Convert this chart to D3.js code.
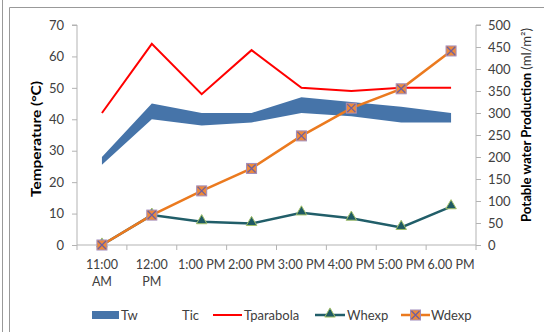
<!DOCTYPE html>
<html><head><meta charset="utf-8">
<script src="https://cdn.jsdelivr.net/npm/d3@7"></script>
<style>
body{margin:0;background:#fff}
svg{display:block;font-family:Lato,"Open Sans",sans-serif}
</style>
</head><body>
<svg id="chart" width="544" height="332"></svg>
<script>
// Hourly readings
const times = ["11:00 AM","12:00 PM","1:00 PM","2:00 PM","3:00 PM","4:00 PM","5:00 PM","6.00 PM"];
const tic = [25.5, 40, 38, 39, 42, 41, 39, 39];          // lower edge of the water-temperature band
const tw = [28, 45, 42, 42, 47, 45.5, 44, 42];           // upper edge of the water-temperature band
const tparabola = [42, 64, 48, 62, 50, 49, 50, 50];      // °C
const whexp = [0, 68, 53, 49, 73, 61, 40, 87];           // ml/m²
const wdexp = [0, 68, 123, 174, 248, 311, 355, 441];     // ml/m²
const tempTicks = [0, 10, 20, 30, 40, 50, 60, 70];
const prodTicks = [0, 50, 100, 150, 200, 250, 300, 350, 400, 450, 500];

const svg = d3.select("#chart");
const m = {left: 77, right: 476, top: 25, bottom: 245};

const x = d3.scaleBand().domain(times).range([m.left, m.right]);
const cx = d => x(d) + x.bandwidth() / 2;
const yT = d3.scaleLinear().domain([0, 70]).range([m.bottom, m.top]);
const yP = d3.scaleLinear().domain([0, 500]).range([m.bottom, m.top]);

const axisCol = "#b3b3b3", labelCol = "#404040";

// frame
svg.append("line").attr("x1", 2.5).attr("x2", 2.5).attr("y1", 0).attr("y2", 332).attr("stroke", "#999");
svg.append("path").attr("d", "M9.5,332V7.5H544").attr("fill", "none").attr("stroke", "#999");

// left axis
const gL = svg.append("g").attr("transform", `translate(${m.left},0)`)
  .call(d3.axisLeft(yT).tickValues(tempTicks).tickSize(5).tickPadding(8));
// right axis
const gR = svg.append("g").attr("transform", `translate(${m.right},0)`)
  .call(d3.axisRight(yP).tickValues(prodTicks).tickSize(5).tickPadding(7));
// category axis, ticks at band edges
const gX = svg.append("g").attr("transform", `translate(0,${m.bottom})`)
  .call(d3.axisBottom(x).tickSize(0).tickPadding(15));
gX.selectAll(".edge").data(d3.range(times.length + 1)).join("line")
  .attr("class", "edge")
  .attr("x1", i => m.left + i * x.bandwidth()).attr("x2", i => m.left + i * x.bandwidth())
  .attr("y1", 0).attr("y2", 5).attr("stroke", axisCol);

[gL, gR, gX].forEach(g => {
  g.selectAll(".domain").attr("stroke", axisCol);
  g.selectAll(".tick line").attr("stroke", axisCol);
  g.selectAll("text").attr("fill", labelCol).style("font-size", "13px").style("font-family", "Lato");
});
gX.selectAll("text").style("font-size", "12.5px");
gL.select(".domain").attr("d", `M-5,${m.top}H0V${m.bottom}`);
gR.select(".domain").attr("d", `M5,${m.top}H0V${m.bottom}`);
gX.select(".domain").attr("d", `M${m.left},0H${m.right}`);

// wrap category labels wider than their band
gX.selectAll(".tick text").each(function(d) {
  const t = d3.select(this);
  if (this.getComputedTextLength() > x.bandwidth()) {
    const parts = d.split(" ");
    t.text(null);
    parts.forEach((p, i) => t.append("tspan").attr("x", 0).attr("dy", i ? "1.4em" : "0.71em").text(p));
    t.attr("dy", null);
  }
});

// temperature band
svg.append("path")
  .attr("d", d3.area().x((d, i) => cx(times[i])).y0((d, i) => yT(tic[i])).y1(d => yT(d))(tw))
  .attr("fill", "#4674a9");

const line = (yScale) => d3.line().x((d, i) => cx(times[i])).y(d => yScale(d));

// Tparabola
svg.append("path").attr("d", line(yT)(tparabola))
  .attr("fill", "none").attr("stroke", "#ff0000").attr("stroke-width", 2);

// Whexp
svg.append("path").attr("d", line(yP)(whexp))
  .attr("fill", "none").attr("stroke", "#215e69").attr("stroke-width", 2.5);
const tri = d3.symbol(d3.symbolTriangle, 48);
svg.selectAll(".tri").data(whexp).join("path").attr("class", "tri")
  .attr("transform", (d, i) => `translate(${cx(times[i])},${yP(d) - 1})`)
  .attr("d", tri).attr("fill", "#1f5a64").attr("stroke", "#a3c16a").attr("stroke-width", 1);

// Wdexp
svg.append("path").attr("d", line(yP)(wdexp))
  .attr("fill", "none").attr("stroke", "#eb7a1f").attr("stroke-width", 2.5);
const sq = svg.selectAll(".sq").data(wdexp).join("g").attr("class", "sq")
  .attr("transform", (d, i) => `translate(${cx(times[i])},${yP(d)})`);
sq.append("rect").attr("x", -5).attr("y", -5).attr("width", 10).attr("height", 10)
  .attr("fill", "#ee8a3a").attr("stroke", "#a08cbc").attr("stroke-width", 1);
sq.append("path").attr("d", "M-4,-4L4,4M4,-4L-4,4").attr("stroke", "#6f5f9e").attr("stroke-width", 1.3);

// axis titles
svg.append("text").attr("transform", "translate(41,139) rotate(-90)")
  .attr("text-anchor", "middle").style("font-size", "13px").style("font-weight", "bold")
  .attr("textLength", 116).attr("lengthAdjust", "spacingAndGlyphs")
  .attr("fill", "#000").text("Temperature (°C)");
const rt = svg.append("text").attr("transform", "translate(531,125) rotate(-90)")
  .attr("text-anchor", "middle").style("font-size", "13px").attr("fill", "#000")
  .attr("textLength", 194).attr("lengthAdjust", "spacingAndGlyphs");
rt.append("tspan").style("font-weight", "bold").text("Potable water Production ");
rt.append("tspan").attr("fill", "#333").text("(ml/m²)");

// legend
const ly = 315;
const lg = svg.append("g").style("font-size", "13px").attr("fill", labelCol);
lg.append("rect").attr("x", 92).attr("y", ly - 4).attr("width", 27).attr("height", 8).attr("fill", "#4674a9");
lg.append("text").attr("x", 121).attr("y", ly).attr("dy", "0.35em").text("Tw");
lg.append("text").attr("x", 182).attr("y", ly).attr("dy", "0.35em").text("Tic");
lg.append("line").attr("x1", 213).attr("x2", 242).attr("y1", ly).attr("y2", ly).attr("stroke", "#ff0000").attr("stroke-width", 2);
lg.append("text").attr("x", 244).attr("y", ly).attr("dy", "0.35em").text("Tparabola");
lg.append("line").attr("x1", 315).attr("x2", 345).attr("y1", ly).attr("y2", ly).attr("stroke", "#215e69").attr("stroke-width", 2.5);
lg.append("path").attr("transform", `translate(330,${ly - 1})`).attr("d", tri)
  .attr("fill", "#1f5a64").attr("stroke", "#a3c16a");
lg.append("text").attr("x", 347).attr("y", ly).attr("dy", "0.35em").text("Whexp");
lg.append("line").attr("x1", 401).attr("x2", 430).attr("y1", ly).attr("y2", ly).attr("stroke", "#eb7a1f").attr("stroke-width", 2.5);
const lsq = lg.append("g").attr("transform", `translate(415.5,${ly})`);
lsq.append("rect").attr("x", -5).attr("y", -5).attr("width", 10).attr("height", 10)
  .attr("fill", "#ee8a3a").attr("stroke", "#a08cbc");
lsq.append("path").attr("d", "M-4,-4L4,4M4,-4L-4,4").attr("stroke", "#6f5f9e").attr("stroke-width", 1.3);
lg.append("text").attr("x", 431).attr("y", ly).attr("dy", "0.35em").text("Wdexp");
</script>
</body></html>
